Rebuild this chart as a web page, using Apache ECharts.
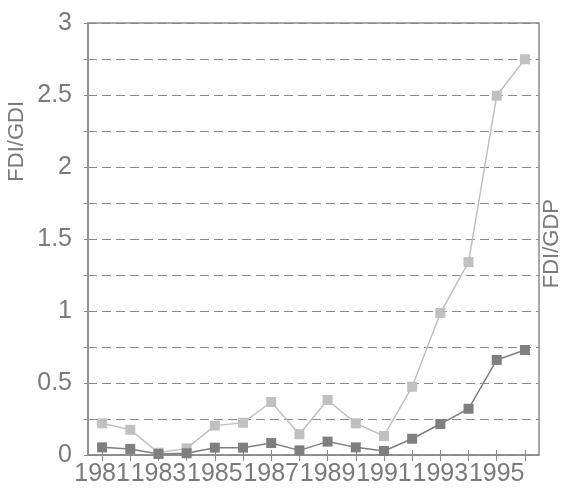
<!DOCTYPE html>
<html>
<head>
<meta charset="utf-8">
<script src="https://cdn.jsdelivr.net/npm/echarts@6/dist/echarts.min.js"></script>
<style>html,body{margin:0;padding:0;background:#fff}#c{width:563px;height:489px}</style>
</head>
<body>
<div id="c"></div>
<script>
const years = ['1981','1982','1983','1984','1985','1986','1987','1988','1989','1990','1991','1992','1993','1994','1995','1996'];
const fdiGdi = [0.22,0.175,0.016,0.046,0.204,0.224,0.368,0.144,0.382,0.22,0.132,0.474,0.986,1.34,2.495,2.748];
const fdiGdp = [0.053,0.042,0.007,0.012,0.051,0.051,0.083,0.032,0.093,0.053,0.028,0.113,0.215,0.321,0.66,0.729];
const leftName = 'FDI/GDI';
const rightName = 'FDI/GDP';

const chart = echarts.init(document.getElementById('c'));
const txt = '#7a7a7a';
const axisCol = '#8a8a8a';
const font = 'Liberation Sans, Arial, sans-serif';
const yLabelFmt = v => (Math.round(v * 4) % 2 === 0) ? String(v) : '';
chart.setOption({
  animation: false,
  grid: {left: 88, right: 24, top: 23, bottom: 34, show: true, borderColor: axisCol, borderWidth: 1.5, backgroundColor: 'transparent'},
  xAxis: [{
    type: 'category', data: years, boundaryGap: true,
    axisLine: {lineStyle: {color: axisCol, width: 1.5}},
    axisTick: {show: true, alignWithLabel: true, interval: 0, length: 6, lineStyle: {color: axisCol, width: 1}},
    axisLabel: {interval: 1, color: txt, fontSize: 25, fontFamily: font, margin: 7}
  }, {
    type: 'category', data: years, boundaryGap: true, position: 'bottom',
    axisLine: {show: false},
    axisTick: {show: true, inside: true, alignWithLabel: true, interval: 0, length: 5, lineStyle: {color: axisCol, width: 1}},
    axisLabel: {show: false}
  }],
  yAxis: [{
    type: 'value', min: 0, max: 3, interval: 0.25,
    axisLine: {show: true, lineStyle: {color: axisCol, width: 1.5}},
    axisTick: {show: true, length: 4, lineStyle: {color: axisCol, width: 1}},
    axisLabel: {color: txt, fontSize: 25, fontFamily: font, margin: 16, formatter: yLabelFmt},
    splitLine: {show: true, lineStyle: {color: axisCol, type: [9, 5], width: 1}}
  }, {
    type: 'value', min: 0, max: 3, interval: 0.25, position: 'left',
    axisLine: {show: false},
    axisTick: {show: true, inside: true, length: 4, lineStyle: {color: axisCol, width: 1}},
    axisLabel: {show: false},
    splitLine: {show: false}
  }],
  graphic: [
    {type: 'text', left: 6, top: 101, rotation: Math.PI / 2, style: {text: leftName, fill: txt, font: '22px ' + font}},
    {type: 'text', left: 541, top: 199, rotation: Math.PI / 2, style: {text: rightName, fill: txt, font: '22px ' + font}}
  ],
  series: [{
    type: 'line', data: fdiGdi, symbol: 'rect', symbolSize: 10,
    lineStyle: {color: '#c0c0c0', width: 1.5}, itemStyle: {color: '#c0c0c0'}
  }, {
    type: 'line', data: fdiGdp, symbol: 'rect', symbolSize: 10,
    lineStyle: {color: '#7f7f7f', width: 1.5}, itemStyle: {color: '#7f7f7f'}
  }]
});
</script>
</body>
</html>
